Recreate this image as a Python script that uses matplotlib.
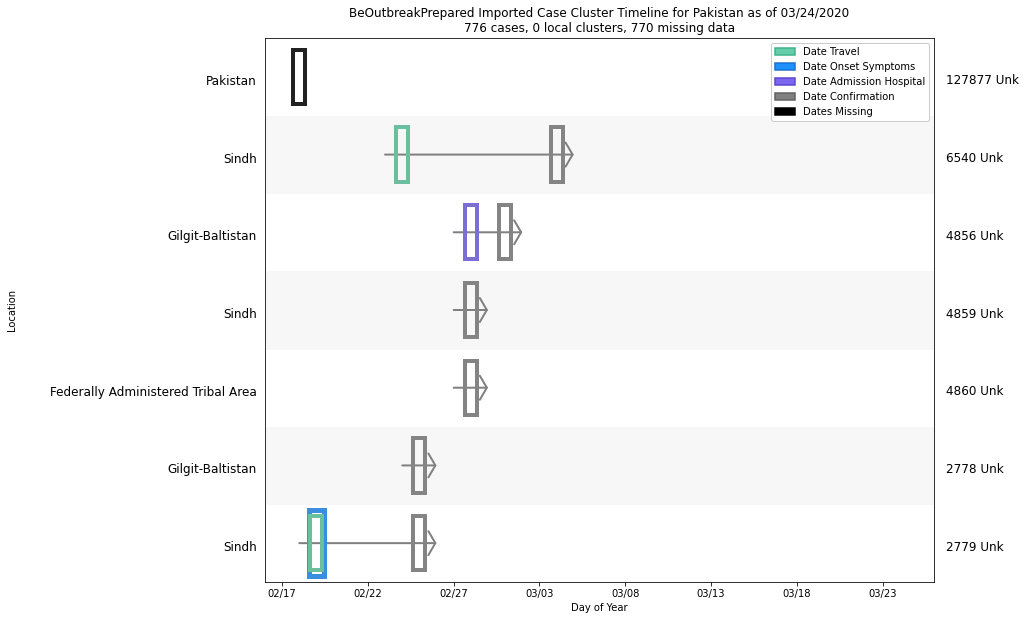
from datetime import datetime
import matplotlib
matplotlib.use('Agg')
import matplotlib.pyplot as plt
import matplotlib.dates as mdates
import matplotlib.transforms as mtransforms
from matplotlib.patches import Rectangle, Patch

# rows listed top to bottom
locations = ['Pakistan', 'Sindh', 'Gilgit-Baltistan', 'Sindh',
             'Federally Administered Tribal Area', 'Gilgit-Baltistan', 'Sindh']
case_ids = ['127877 Unk', '6540 Unk', '4856 Unk', '4859 Unk', '4860 Unk', '2778 Unk', '2779 Unk']
date_travel = [None, '02/24', None, None, None, None, '02/19']
date_onset = [None, None, None, None, None, None, '02/19']
date_admission = [None, None, '02/28', None, None, None, None]
date_confirmation = [None, '03/04', '03/01', '02/28', '02/28', '02/25', '02/25']
date_missing = ['02/18', None, None, None, None, None, None]

tick_labels = ['02/17', '02/22', '02/27', '03/03', '03/08', '03/13', '03/18', '03/23']
x_start, x_end = '02/16', '03/26'

colors = {
    'travel': '#6abf9f',
    'onset': '#3a8ee0',
    'admission': '#7b6ed6',
    'confirmation': '#848484',
    'missing': '#222222',
}


def to_num(s):
    return mdates.date2num(datetime.strptime('2020/' + s, '%Y/%m/%d'))


fig = plt.figure(figsize=(1029 / 72, 620 / 72), dpi=72)
ax = fig.add_axes([0.2575, 0.0613, 0.6502, 0.8774])

n = len(locations)
for i in range(n):
    y = n - 1 - i
    if i % 2 == 1:
        ax.axhspan(y - 0.5, y + 0.5, color='#f7f7f7', zorder=0)

    dates = [d for d in [date_travel[i], date_onset[i], date_admission[i]] if d]
    if date_confirmation[i]:
        first = min(to_num(d) for d in dates + [date_confirmation[i]])
        last = to_num(date_confirmation[i])
        ax.annotate('', xy=(last + 1, y), xytext=(first - 1, y),
                    arrowprops=dict(arrowstyle='->, head_length=0.35, head_width=0.6',
                                    color='gray', lw=2, mutation_scale=20,
                                    shrinkA=0, shrinkB=0),
                    zorder=2)

    events = [
        (date_onset[i], 'onset', 0.87, 0.85, 5),
        (date_travel[i], 'travel', 0.70, 0.70, 4),
        (date_admission[i], 'admission', 0.70, 0.70, 4),
        (date_confirmation[i], 'confirmation', 0.70, 0.70, 4),
        (date_missing[i], 'missing', 0.70, 0.70, 4),
    ]
    for d, kind, w, h, lw in events:
        if not d:
            continue
        x = to_num(d)
        ax.add_patch(Rectangle((x - w / 2, y - h / 2), w, h, fill=False,
                               edgecolor=colors[kind], lw=lw, zorder=3))

ax.set_xlim(to_num(x_start), to_num(x_end))
ax.set_ylim(-0.5, n - 0.5)
ax.set_xticks([to_num(t) for t in tick_labels])
ax.set_xticklabels(tick_labels, fontsize=10)
ax.set_yticks(range(n))
ax.set_yticklabels(locations[::-1], fontsize=12)
ax.tick_params(axis='y', length=0, pad=8)

shift = mtransforms.ScaledTranslation(0, -3 / 72, fig.dpi_scale_trans)
for lbl in ax.get_yticklabels():
    lbl.set_transform(lbl.get_transform() + shift)

for i in range(n):
    ax.text(1.018, n - 1 - i, case_ids[i], fontsize=12, va='center', ha='left',
            transform=ax.get_yaxis_transform() + mtransforms.ScaledTranslation(0, -4 / 72, fig.dpi_scale_trans))

ax.set_xlabel('Day of Year', fontsize=10)
ax.set_ylabel('Location', fontsize=10, labelpad=33)
ax.set_title('BeOutbreakPrepared Imported Case Cluster Timeline for Pakistan as of 03/24/2020\n'
             '776 cases, 0 local clusters, 770 missing data', fontsize=12)

handles = [
    Patch(facecolor='mediumaquamarine', edgecolor='#3cb38a', lw=1.5, label='Date Travel'),
    Patch(facecolor='dodgerblue', edgecolor='#1a70d0', lw=1.5, label='Date Onset Symptoms'),
    Patch(facecolor='mediumslateblue', edgecolor='#5a48d0', lw=1.5, label='Date Admission Hospital'),
    Patch(facecolor='gray', edgecolor='#606060', lw=1.5, label='Date Confirmation'),
    Patch(facecolor='black', edgecolor='black', lw=1.5, label='Dates Missing'),
]
ax.legend(handles=handles, loc='upper right', fontsize=10, framealpha=1,
          handlelength=2, borderaxespad=0.5)

fig.savefig('out.png', dpi=72)
